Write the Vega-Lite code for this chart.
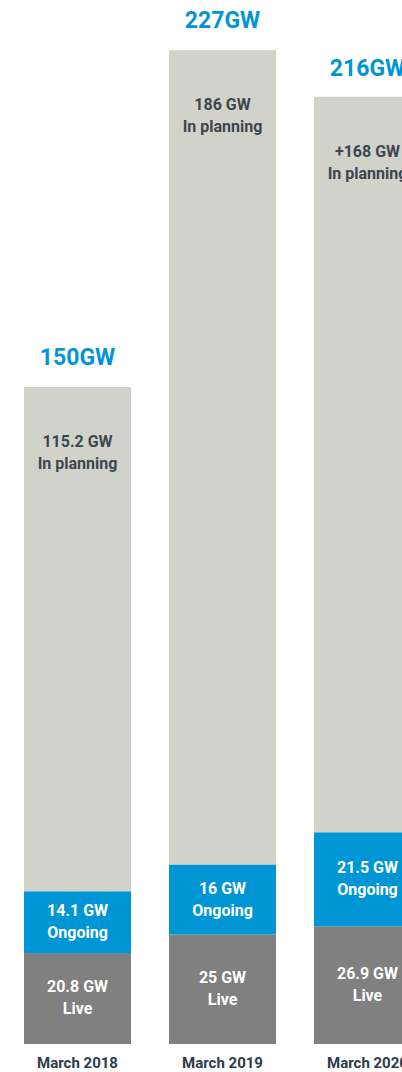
{
  "$schema": "https://vega.github.io/schema/vega-lite/v6.json",
  "width": 402,
  "height": 1044,
  "autosize": {"type": "none"},
  "padding": {"left": 0, "top": 0, "right": 0, "bottom": 28},
  "background": "white",
  "config": {"view": {"stroke": null}, "font": "Roboto"},
  "datasets": {
    "segments": [
      {"date": "March 2018", "status": "Live", "tier": 1, "value": 20.8, "label": "20.8 GW\nLive"},
      {"date": "March 2018", "status": "Ongoing", "tier": 2, "value": 14.1, "label": "14.1 GW\nOngoing"},
      {"date": "March 2018", "status": "In planning", "tier": 3, "value": 115.2, "label": "115.2 GW\nIn planning"},
      {"date": "March 2019", "status": "Live", "tier": 1, "value": 25, "label": "25 GW\nLive"},
      {"date": "March 2019", "status": "Ongoing", "tier": 2, "value": 16, "label": "16 GW\nOngoing"},
      {"date": "March 2019", "status": "In planning", "tier": 3, "value": 186, "label": "186 GW\nIn planning"},
      {"date": "March 2020", "status": "Live", "tier": 1, "value": 26.9, "label": "26.9 GW\nLive"},
      {"date": "March 2020", "status": "Ongoing", "tier": 2, "value": 21.5, "label": "21.5 GW\nOngoing"},
      {"date": "March 2020", "status": "In planning", "tier": 3, "value": 168, "label": "+168 GW\nIn planning"}
    ],
    "totals": [
      {"date": "March 2018", "total": 150, "label": "150GW"},
      {"date": "March 2019", "total": 227, "label": "227GW"},
      {"date": "March 2020", "total": 216, "label": "216GW"}
    ]
  },
  "data": {"name": "segments"},
  "encoding": {
    "x": {
      "field": "date",
      "type": "nominal",
      "scale": {
        "domain": ["March 2018", "March 2019", "March 2020"],
        "range": [0, 445],
        "paddingInner": 0.262,
        "paddingOuter": 0.1655
      },
      "axis": {
        "title": null,
        "domain": false,
        "ticks": false,
        "labelAngle": 0,
        "labelFontSize": 15,
        "labelFontWeight": "bold",
        "labelColor": "#2d3b4b",
        "labelPadding": 11,
        "labelFont": "Roboto"
      }
    }
  },
  "layer": [
    {
      "mark": {"type": "bar"},
      "encoding": {
        "y": {
          "field": "value",
          "type": "quantitative",
          "stack": "zero",
          "scale": {"domain": [0, 238.5], "nice": false, "zero": true},
          "axis": null
        },
        "color": {
          "field": "status",
          "type": "nominal",
          "scale": {"domain": ["Live", "Ongoing", "In planning"], "range": ["#808080", "#0096d6", "#d1d2ca"]},
          "legend": null
        },
        "order": {"field": "tier", "type": "quantitative"}
      }
    },
    {
      "transform": [{"filter": "datum.status !== 'In planning'"}],
      "mark": {
        "type": "text",
        "lineBreak": "\n",
        "baseline": "middle",
        "fontSize": 16,
        "fontWeight": "bold",
        "color": "white",
        "lineHeight": 22,
        "dy": -11
      },
      "encoding": {
        "y": {
          "field": "value",
          "type": "quantitative",
          "stack": "zero",
          "bandPosition": 0.5,
          "scale": {"domain": [0, 238.5], "nice": false, "zero": true},
          "axis": null
        },
        "detail": {"field": "status", "type": "nominal"},
        "order": {"field": "tier", "type": "quantitative"},
        "text": {"field": "label", "type": "nominal"}
      }
    },
    {
      "mark": {
        "type": "text",
        "lineBreak": "\n",
        "baseline": "alphabetic",
        "fontSize": 16,
        "fontWeight": "bold",
        "color": "#3d4650",
        "lineHeight": 22,
        "dy": 60
      },
      "encoding": {
        "y": {
          "field": "value",
          "type": "quantitative",
          "stack": "zero",
          "scale": {"domain": [0, 238.5], "nice": false, "zero": true},
          "axis": null
        },
        "detail": {"field": "status", "type": "nominal"},
        "order": {"field": "tier", "type": "quantitative"},
        "text": {
          "condition": {"test": "datum.status === 'In planning'", "field": "label", "type": "nominal"},
          "value": ""
        }
      }
    },
    {
      "data": {"name": "totals"},
      "mark": {
        "type": "text",
        "baseline": "alphabetic",
        "fontSize": 23,
        "fontWeight": "bold",
        "color": "#0096d6",
        "dy": -22
      },
      "encoding": {
        "y": {
          "field": "total",
          "type": "quantitative",
          "scale": {"domain": [0, 238.5], "nice": false, "zero": true},
          "axis": null
        },
        "text": {"field": "label", "type": "nominal"}
      }
    }
  ]
}
